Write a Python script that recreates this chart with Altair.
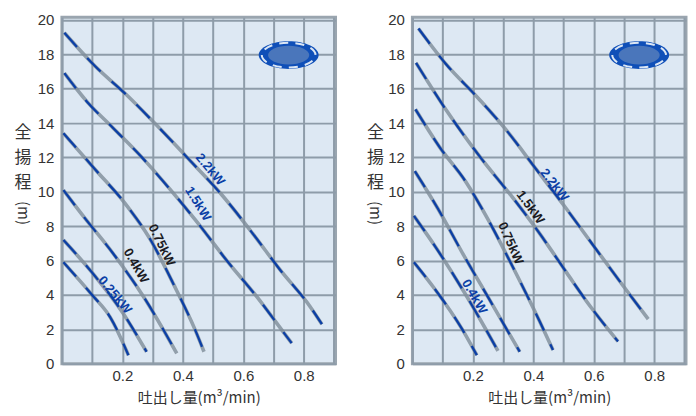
import altair as alt
import pandas as pd

# ---------------- data ----------------
# left panel curves: flow q (m3/min), head h (m)
LA_Q = [0.008, 0.11, 0.21, 0.32, 0.43, 0.53, 0.63, 0.72, 0.82, 0.86]
LA_H = [19.25, 17.3, 15.7, 13.75, 11.7, 9.8, 7.6, 5.5, 3.35, 2.3]
LB_Q = [0.008, 0.085, 0.17, 0.27, 0.36, 0.44, 0.55, 0.64, 0.73, 0.76]
LB_H = [16.9, 15.2, 13.7, 11.9, 10.1, 8.4, 5.9, 4.0, 1.9, 1.2]
LC_Q = [0.005, 0.11, 0.21, 0.29, 0.37, 0.44, 0.47]
LC_H = [13.4, 11.3, 9.3, 7.3, 4.6, 2.0, 0.7]
LD_Q = [0.005, 0.07, 0.17, 0.27, 0.38]
LD_H = [10.1, 8.6, 6.4, 3.9, 0.6]
LE_Q = [0.005, 0.10, 0.20, 0.28]
LE_H = [7.2, 5.3, 3.0, 0.7]
LF_Q = [0.005, 0.10, 0.16, 0.22]
LF_H = [5.9, 4.0, 2.7, 0.5]

# right panel curves
RA_Q = [0.02, 0.11, 0.22, 0.31, 0.41, 0.51, 0.61, 0.69, 0.78]
RA_H = [19.5, 17.45, 15.4, 13.6, 11.3, 9.0, 6.6, 4.7, 2.6]
RB_Q = [0.012, 0.11, 0.225, 0.33, 0.42, 0.51, 0.59, 0.68]
RB_H = [17.5, 14.8, 12.0, 9.7, 7.6, 5.3, 3.3, 1.3]
RC_Q = [0.01, 0.09, 0.176, 0.25, 0.33, 0.42, 0.465]
RC_H = [14.8, 12.6, 10.6, 8.4, 5.7, 2.5, 0.8]
RD_Q = [0.008, 0.085, 0.17, 0.256, 0.355]
RD_H = [11.2, 9.0, 6.3, 3.7, 0.7]
RE_Q = [0.005, 0.08, 0.17, 0.283]
RE_H = [8.6, 6.7, 4.2, 0.75]
RF_Q = [0.005, 0.074, 0.165, 0.213]
RF_H = [5.9, 4.35, 2.0, 0.5]

CURVE_NAMES = ["A", "B", "C", "D", "E", "F"]

# curve labels
L_LAB_TEXT = ["2.2kW", "1.5kW", "0.75kW", "0.4kW", "0.25kW"]
L_LAB_Q = [0.49, 0.45, 0.33, 0.245, 0.175]
L_LAB_H = [11.3, 9.3, 6.9, 5.7, 4.0]
L_LAB_ANG = [50, 58, 64, 60, 50]
L_LAB_COL = ["blue", "blue", "black", "black", "blue"]

R_LAB_TEXT = ["2.2kW", "1.5kW", "0.75kW", "0.4kW"]
R_LAB_Q = [0.47, 0.39, 0.325, 0.205]
R_LAB_H = [10.4, 9.1, 7.0, 3.9]
R_LAB_ANG = [52, 54, 66, 60]
R_LAB_COL = ["blue", "black", "black", "blue"]

LOGO_Q = [0.75]
LOGO_H = [17.95]

X_TICKS = [0, 0.1, 0.2, 0.3, 0.4, 0.5, 0.6, 0.7, 0.8, 0.9]
Y_TICKS = [0, 2, 4, 6, 8, 10, 12, 14, 16, 18, 20]
X_TITLE = "吐出し量(m³/min)"
Y_TITLE_LINES = ["全", "揚", "程"]
Y_TITLE_UNIT = "(m)"

# ---------------- helpers ----------------
def curves_df(pairs):
    rows = []
    for name, (qs, hs) in zip(CURVE_NAMES, pairs):
        for i, (q, h) in enumerate(zip(qs, hs)):
            rows.append({"curve": name, "q": q, "h": h, "o": i})
    return pd.DataFrame(rows)


ELLIPSE = "M-1,0A1,0.46,0,1,0,1,0A1,0.46,0,1,0,-1,0Z"
W, H = 274, 347
XS = alt.Scale(domain=[0, 0.905], nice=False, zero=False)
YS = alt.Scale(domain=[0, 20.15], nice=False, zero=False)
XAX = alt.Axis(
    values=X_TICKS,
    labelExpr="datum.value == 0.2 || datum.value == 0.4 || datum.value == 0.6 || datum.value == 0.8 ? format(datum.value, '.1f') : ''",
    title=X_TITLE, grid=True, labelPadding=5, titlePadding=7,
    titleFont="Noto Sans CJK JP", titleFontSize=15, titleFontWeight="normal",
    titleColor="#333333",
)
YAX = alt.Axis(values=Y_TICKS, title=None, grid=True, labelPadding=8)


def panel(pairs, lab_text, lab_q, lab_h, lab_ang, lab_col, title_dx):
    df = curves_df(pairs)
    x = alt.X("q:Q", scale=XS, axis=XAX)
    y = alt.Y("h:Q", scale=YS, axis=YAX)
    base = alt.Chart(df)
    gray = base.mark_line(color="#7e8c99", strokeWidth=3.6, opacity=0.8,
                          interpolate="monotone").encode(x=x, y=y, detail="curve:N", order="o:Q")
    blue = base.mark_line(color="#0b3fa6", strokeWidth=2.3, strokeDash=[19, 15],
                          interpolate="monotone").encode(x=x, y=y, detail="curve:N", order="o:Q")

    labdf = pd.DataFrame({"t": lab_text, "q": lab_q, "h": lab_h, "a": lab_ang, "c": lab_col})
    labels = alt.Chart(labdf).mark_text(font="Liberation Sans", fontSize=13, fontWeight="bold").encode(
        x=x, y=y, text="t:N",
        angle=alt.Angle("a:Q", scale=None),
        color=alt.Color("c:N", scale=alt.Scale(domain=["blue", "black"], range=["#0b3fa6", "#1b1b22"]), legend=None),
    )

    logodf = pd.DataFrame({"q": LOGO_Q, "h": LOGO_H})
    lb = alt.Chart(logodf)
    logo1 = lb.mark_point(shape=ELLIPSE, size=3600, filled=True, fill="#0f4fb8", opacity=1, strokeWidth=0).encode(x=x, y=y)
    logo2 = lb.mark_point(shape=ELLIPSE, size=2900, filled=False, stroke="#dbe6f4", strokeWidth=2, strokeDash=[9, 7], opacity=1).encode(x=x, y=y)
    logo3 = lb.mark_point(shape=ELLIPSE, size=1700, filled=True, fill="#4a76bb", opacity=1, strokeWidth=0).encode(x=x, y=y)

    one = alt.Chart(pd.DataFrame({"k": [0]}))
    ytitle = one.mark_text(text=Y_TITLE_LINES, font="Noto Sans CJK JP", fontSize=17, lineHeight=25,
                           baseline="top", align="center", color="#333333").encode(
        x=alt.value(title_dx), y=alt.value(108))
    yunit = one.mark_text(text=Y_TITLE_UNIT, font="Noto Sans CJK JP", fontSize=15, angle=90,
                          baseline="middle", align="center", color="#333333").encode(
        x=alt.value(title_dx), y=alt.value(196))

    return alt.layer(gray, blue, labels, logo1, logo2, logo3, ytitle, yunit).properties(width=W, height=H)


left = panel([(LA_Q, LA_H), (LB_Q, LB_H), (LC_Q, LC_H), (LD_Q, LD_H), (LE_Q, LE_H), (LF_Q, LF_H)],
             L_LAB_TEXT, L_LAB_Q, L_LAB_H, L_LAB_ANG, L_LAB_COL, -39)
right = panel([(RA_Q, RA_H), (RB_Q, RB_H), (RC_Q, RC_H), (RD_Q, RD_H), (RE_Q, RE_H), (RF_Q, RF_H)],
              R_LAB_TEXT, R_LAB_Q, R_LAB_H, R_LAB_ANG, R_LAB_COL, -37)

chart = alt.hconcat(left, right, spacing=28).properties(
    padding={"left": 5, "top": 3, "right": 0, "bottom": 0}
).configure_view(
    fill="#dde8f3", stroke="#9aa5af", strokeWidth=3
).configure_axis(
    gridColor="#8e9ca9", gridWidth=2, gridOpacity=1, domain=False, ticks=False,
    labelFont="Liberation Sans", labelFontSize=15, labelColor="#333333",
)

chart.save("out.html", embed_options={"renderer": "svg", "actions": False})
